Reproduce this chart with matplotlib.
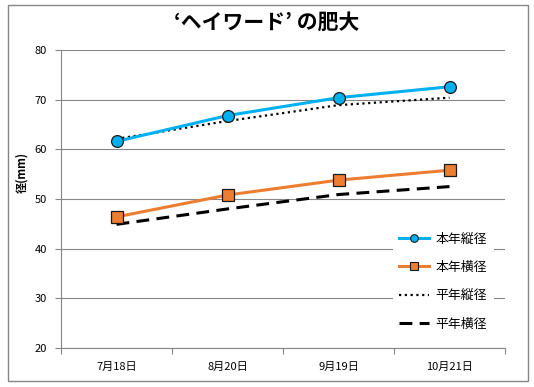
import matplotlib
matplotlib.use("Agg")
import matplotlib.pyplot as plt
from matplotlib.patches import Rectangle
from matplotlib.lines import Line2D

plt.rcParams['font.family'] = ['Noto Sans CJK JP', 'DejaVu Sans']

categories = ['7月18日', '8月20日', '9月19日', '10月21日']
honen_tate = [61.6, 66.8, 70.4, 72.6]
honen_yoko = [46.4, 50.8, 53.8, 55.8]
heinen_tate = [62.1, 65.7, 68.9, 70.4]
heinen_yoko = [44.9, 48.0, 50.9, 52.5]
yticks = [20, 30, 40, 50, 60, 70, 80]

fig = plt.figure(figsize=(5.34, 3.87), dpi=100)
ax = fig.add_axes([61/534, 1-348/387, (505-61)/534, (348-50)/387])

x = list(range(len(categories)))
gray = '#868686'

ax.plot(x, honen_tate, color='#00B0F0', lw=2.2, marker='o', ms=8.5,
        mfc='#00B0F0', mec='#1a1a1a', mew=0.9, label='本年縦径', zorder=4)
ax.plot(x, honen_yoko, color='#ED7D31', lw=2.2, marker='s', ms=8.5,
        mfc='#ED7D31', mec='#1a1a1a', mew=0.9, label='本年横径', zorder=4)
ax.plot(x, heinen_tate, color='black', lw=1.6, ls=(0, (1, 1.6)), label='平年縦径', zorder=3)
ax.plot(x, heinen_yoko, color='black', lw=2.2, ls=(0, (4.2, 2.4)), label='平年横径', zorder=3)

ax.set_xlim(-0.5, len(categories) - 0.5)
ax.set_ylim(20, 80)
ax.set_yticks(yticks)
ax.set_yticklabels([str(v) for v in yticks], fontsize=8)
ax.set_xticks(x)
ax.set_xticklabels(categories, fontsize=8)
ax.set_xticks([i + 0.5 for i in range(-1, len(categories))], minor=True)
ax.tick_params(axis='x', which='major', length=0, pad=10)
ax.tick_params(axis='x', which='minor', length=4, color=gray, width=0.8)
ax.tick_params(axis='y', length=4, color=gray, width=0.8, pad=6)
ax.yaxis.grid(True, color=gray, lw=0.8)
ax.set_axisbelow(True)
for s in ['top', 'right']:
    ax.spines[s].set_visible(False)
for s in ['left', 'bottom']:
    ax.spines[s].set_color(gray)
    ax.spines[s].set_linewidth(0.8)

ax.set_ylabel('径(mm)', fontsize=8, fontweight='bold')
ax.yaxis.set_label_coords(-33/444, 0.59)

fig.text(0.5, 1-22/387, '‘ヘイワード’ の肥大', ha='center', va='center',
         fontsize=15, fontweight='bold')

handles = [
    Line2D([], [], color='#00B0F0', lw=2.2, marker='o', ms=5.5, mfc='#00B0F0', mec='#1a1a1a', mew=0.8),
    Line2D([], [], color='#ED7D31', lw=2.2, marker='s', ms=5.5, mfc='#ED7D31', mec='#1a1a1a', mew=0.8),
    Line2D([], [], color='black', lw=1.6, ls=(0, (1, 1.6))),
    Line2D([], [], color='black', lw=2.2, ls=(0, (4.2, 2.4))),
]
labels = ['本年縦径', '本年横径', '平年縦径', '平年横径']
leg = fig.legend(handles, labels, loc='upper left', bbox_to_anchor=(393/534, 1-226/387),
                 frameon=True, fontsize=9.3, handlelength=2.3, handletextpad=0.5,
                 labelspacing=1.2, borderpad=0.5, borderaxespad=0)
leg.get_frame().set_edgecolor('none')
leg.get_frame().set_facecolor('white')
leg.get_frame().set_alpha(1)

fig.patches.append(Rectangle((8/534, 6/387), 520/534, 376/387, transform=fig.transFigure,
                             fill=False, edgecolor=gray, lw=1.0))

fig.savefig('out.png', dpi=100)
